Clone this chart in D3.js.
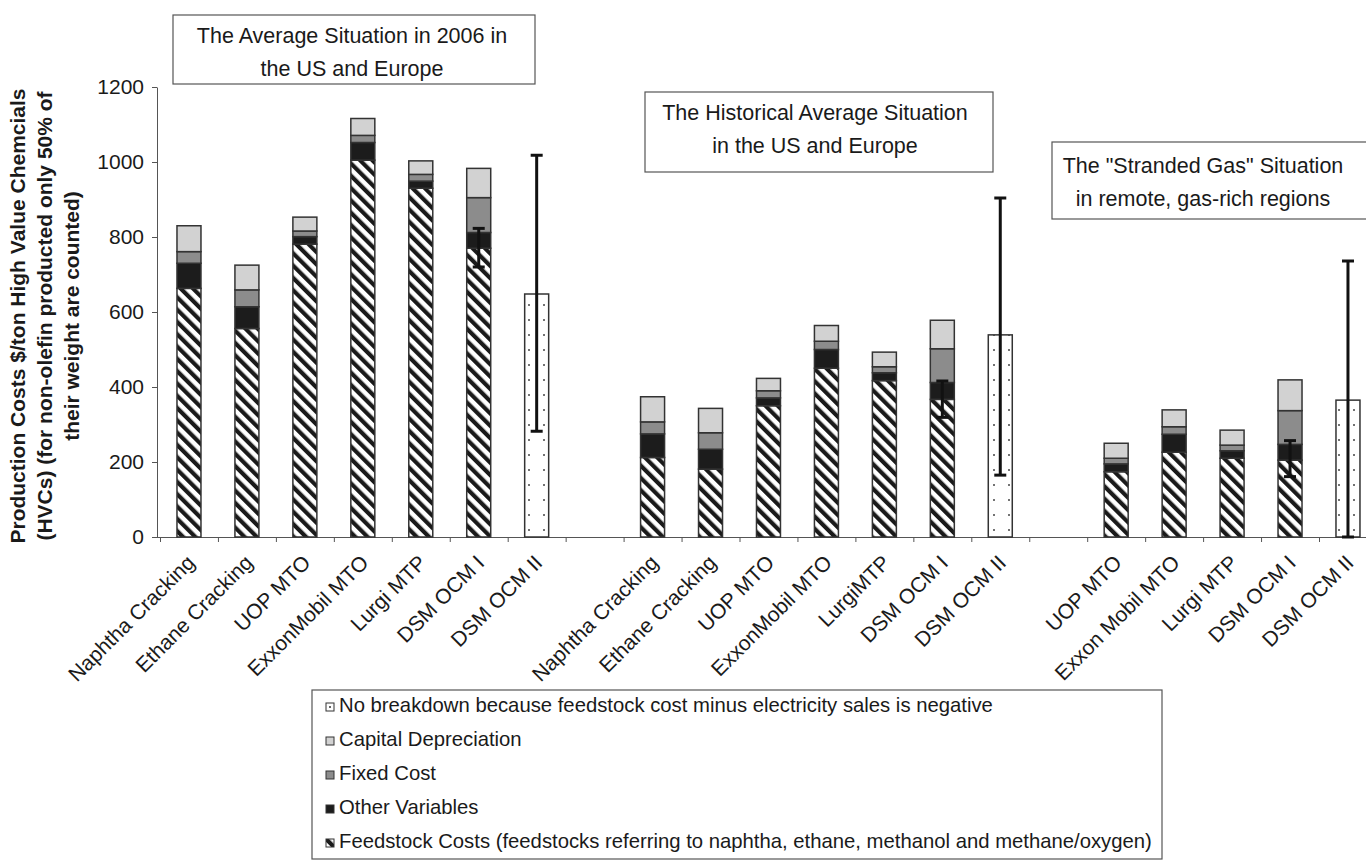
<!DOCTYPE html>
<html>
<head>
<meta charset="utf-8">
<script src="https://cdn.jsdelivr.net/npm/d3@7"></script>
<style>
  body { margin: 0; background: #fff; }
  svg { display: block; font-family: "Liberation Sans", Arial, Helvetica, sans-serif; }
</style>
</head>
<body>
<svg width="1366" height="860"></svg>
<script>
// slots: 7 bars, gap, 7 bars, gap, 5 bars
var labels = ["Naphtha Cracking", "Ethane Cracking", "UOP MTO", "ExxonMobil MTO", "Lurgi MTP", "DSM OCM I", "DSM OCM II", "",
              "Naphtha Cracking", "Ethane Cracking", "UOP MTO", "ExxonMobil MTO", "LurgiMTP", "DSM OCM I", "DSM OCM II", "",
              "UOP MTO", "Exxon Mobil MTO", "Lurgi MTP", "DSM OCM I", "DSM OCM II"];

var feedstock   = [663, 556, 781, 1005, 930, 770, 0, 0, 212, 181, 350, 450, 417, 367, 0, 0, 174, 226, 210, 205, 0];
var otherVar    = [67, 58, 20, 47, 19, 42, 0, 0, 63, 53, 21, 50, 21, 45, 0, 0, 21, 48, 20, 42, 0];
var fixedCost   = [31, 45, 15, 19, 18, 93, 0, 0, 32, 44, 19, 22, 16, 90, 0, 0, 15, 20, 15, 90, 0];
var capital     = [69, 66, 37, 45, 36, 78, 0, 0, 67, 65, 33, 42, 39, 76, 0, 0, 40, 45, 40, 82, 0];
var noBreakdown = [0, 0, 0, 0, 0, 0, 648, 0, 0, 0, 0, 0, 0, 0, 539, 0, 0, 0, 0, 0, 365];

var errLow  = [null, null, null, null, null, 720, 282, null, null, null, null, null, null, 319, 165, null, null, null, null, 161, 0];
var errHigh = [null, null, null, null, null, 823, 1018, null, null, null, null, null, null, 416, 904, null, null, null, null, 257, 736];

var yTicks = [0, 200, 400, 600, 800, 1000, 1200];

var titles = [
  ["The Average Situation in 2006 in", "the US and Europe"],
  ["The Historical Average Situation", "in the US and Europe"],
  ["The \"Stranded Gas\" Situation", "in remote, gas-rich regions"]
];

var legendItems = [
  {key: "none", label: "No breakdown because feedstock cost minus electricity sales is negative"},
  {key: "capital", label: "Capital Depreciation"},
  {key: "fixed", label: "Fixed Cost"},
  {key: "other", label: "Other Variables"},
  {key: "feed", label: "Feedstock Costs (feedstocks referring to naphtha, ethane, methanol and methane/oxygen)"}
];

var svg = d3.select("svg");
var step = 57.95, x0 = 160, nSlots = labels.length;

var x = d3.scaleBand().domain(d3.range(nSlots))
  .range([x0, x0 + nSlots * step])
  .paddingInner(0.586).paddingOuter(0.293);
var slot = d3.scaleLinear().domain([0, nSlots]).range([x0, x0 + nSlots * step]);
var y = d3.scaleLinear().domain([0, 1200]).range([537, 87]);

var defs = svg.append("defs");
var hatch = defs.append("pattern").attr("id", "hatch")
  .attr("patternUnits", "userSpaceOnUse").attr("width", 8.7).attr("height", 8.7)
  .attr("patternTransform", "rotate(-45)");
hatch.append("rect").attr("width", 8.7).attr("height", 8.7).attr("fill", "#fff");
hatch.append("rect").attr("width", 4.2).attr("height", 8.7).attr("fill", "#1a1a1a");

var dots = defs.append("pattern").attr("id", "dots")
  .attr("patternUnits", "userSpaceOnUse").attr("width", 15).attr("height", 15);
dots.append("rect").attr("width", 15).attr("height", 15).attr("fill", "#fff");
dots.append("circle").attr("cx", 4).attr("cy", 5).attr("r", 1).attr("fill", "#444");

// small version for the legend key
var dotKey = defs.append("pattern").attr("id", "dotkey")
  .attr("patternUnits", "objectBoundingBox").attr("width", 1).attr("height", 1);
dotKey.append("rect").attr("width", 8).attr("height", 8).attr("fill", "#fff");
dotKey.append("circle").attr("cx", 4).attr("cy", 4).attr("r", 1).attr("fill", "#333");

var fills = {feed: "url(#hatch)", other: "#1c1c1c", fixed: "#8c8c8c", capital: "#d2d2d2", none: "url(#dots)"};

// stacked data
var rows = labels.map(function(l, i) {
  return {i: i, feed: feedstock[i], other: otherVar[i], fixed: fixedCost[i], capital: capital[i], none: noBreakdown[i]};
});
var keys = ["feed", "other", "fixed", "capital", "none"];
var series = d3.stack().keys(keys)(rows);

// axes
var yAxis = svg.append("g").attr("transform", "translate(157,0)")
  .call(d3.axisLeft(y).tickValues(yTicks).tickFormat(d3.format("d"))
    .tickSize(5).tickSizeOuter(0).tickPadding(8));
yAxis.selectAll("text").attr("font-size", 21).attr("fill", "#1a1a1a").attr("font-family", null);
yAxis.selectAll("line, path").attr("stroke", "#555");

var xAxis = svg.append("g").attr("transform", "translate(0,537)")
  .call(d3.axisBottom(slot).tickValues(d3.range(0, nSlots + 1)).tickSize(5).tickSizeOuter(0).tickFormat(""));
xAxis.selectAll("line, path").attr("stroke", "#555");
svg.append("line").attr("x1", 155).attr("x2", x0).attr("y1", 537.5).attr("y2", 537.5).attr("stroke", "#555");

// bars
svg.append("g").selectAll("g")
  .data(series)
  .enter().append("g")
    .attr("fill", function(d) { return fills[d.key]; })
  .selectAll("rect")
  .data(function(d) { return d.filter(function(s) { return s[1] - s[0] > 0; }); })
  .enter().append("rect")
    .attr("x", function(d) { return x(d.data.i); })
    .attr("y", function(d) { return y(d[1]); })
    .attr("width", x.bandwidth())
    .attr("height", function(d) { return y(d[0]) - y(d[1]); })
    .attr("stroke", "#333")
    .attr("stroke-width", 1.5);

// error bars
var err = labels.map(function(l, i) { return {i: i, lo: errLow[i], hi: errHigh[i]}; })
  .filter(function(d) { return d.lo !== null; });
var eg = svg.append("g").selectAll("g").data(err).enter().append("g")
  .attr("stroke", "#111").attr("stroke-width", 3);
eg.append("line")
  .attr("x1", function(d) { return x(d.i) + x.bandwidth() / 2; })
  .attr("x2", function(d) { return x(d.i) + x.bandwidth() / 2; })
  .attr("y1", function(d) { return y(d.lo); })
  .attr("y2", function(d) { return y(d.hi); });
eg.selectAll(".cap").data(function(d) { return [d.lo, d.hi].map(function(v) { return {i: d.i, v: v}; }); })
  .enter().append("line")
  .attr("x1", function(d) { return x(d.i) + x.bandwidth() / 2 - 6; })
  .attr("x2", function(d) { return x(d.i) + x.bandwidth() / 2 + 6; })
  .attr("y1", function(d) { return y(d.v); })
  .attr("y2", function(d) { return y(d.v); });

// category labels
svg.append("g").selectAll("text")
  .data(labels.map(function(l, i) { return {l: l, i: i}; }).filter(function(d) { return d.l; }))
  .enter().append("text")
    .attr("transform", function(d) {
      return "translate(" + (x(d.i) + x.bandwidth() / 2 + 7) + ",564) rotate(-45)";
    })
    .attr("text-anchor", "end")
    .attr("font-size", 21)
    .attr("fill", "#1a1a1a")
    .text(function(d) { return d.l; });

// y title
var yTitle = ["Production Costs $/ton High Value Chemcials",
              "(HVCs) (for non-olefin producted only 50% of",
              "their weight are counted)"];
svg.append("g").attr("transform", "translate(0,316) rotate(-90)")
  .selectAll("text").data(yTitle).enter().append("text")
    .attr("x", 0)
    .attr("y", function(d, i) { return 25 + i * 27; })
    .attr("text-anchor", "middle")
    .attr("font-size", 21)
    .attr("font-weight", "bold")
    .attr("fill", "#1a1a1a")
    .text(function(d) { return d; });

// situation boxes
var boxes = [
  {x: 173, y: 15, w: 362, h: 69, cx: 352, b: 43},
  {x: 645, y: 92, w: 348, h: 80, cx: 815, b: 120},
  {x: 1052, y: 142, w: 320, h: 77, cx: 1203, b: 173}
];
boxes.forEach(function(b, k) {
  svg.append("rect").attr("x", b.x).attr("y", b.y).attr("width", b.w).attr("height", b.h)
    .attr("fill", "#fff").attr("stroke", "#555").attr("stroke-width", 1.2);
  svg.selectAll(null).data(titles[k]).enter().append("text")
    .attr("x", b.cx).attr("y", function(d, i) { return b.b + i * 33; })
    .attr("text-anchor", "middle").attr("font-size", 21.5).attr("fill", "#1a1a1a")
    .text(function(d) { return d; });
});

// legend
var lg = svg.append("g");
lg.append("rect").attr("x", 312).attr("y", 690).attr("width", 850).attr("height", 169)
  .attr("fill", "#fff").attr("stroke", "#555").attr("stroke-width", 1.2);
var li = lg.selectAll("g").data(legendItems).enter().append("g")
  .attr("transform", function(d, i) { return "translate(0," + (712 + i * 34) + ")"; });
li.append("rect").attr("x", 326).attr("y", -9).attr("width", 8).attr("height", 8)
  .attr("fill", function(d) { return d.key === "none" ? "url(#dotkey)" : fills[d.key]; })
  .attr("stroke", "#333").attr("stroke-width", 1);
li.append("text").attr("x", 339).attr("y", 0).attr("font-size", 20.3).attr("fill", "#1a1a1a")
  .text(function(d) { return d.label; });
</script>
</body>
</html>
